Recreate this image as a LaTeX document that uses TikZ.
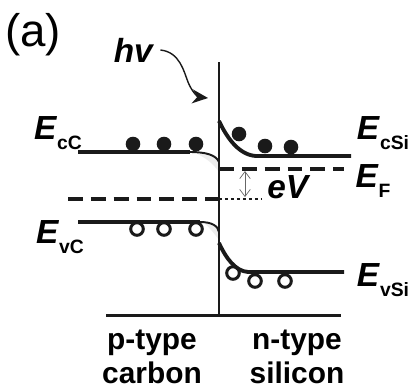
\documentclass[tikz,border=0pt]{standalone}
\usepackage{fontspec}
\setmainfont{Liberation Sans}
\usetikzlibrary{positioning, arrows.meta, calc}
\definecolor{bandblack}{HTML}{1A1A1A}
\newcommand\bandlab[2]{\textbf{\textit{#1}}\raisebox{-0.55ex}{\fontsize{11}{12}\selectfont\bfseries #2}}

\begin{document}
\begin{tikzpicture}[x=0.02cm, y=-0.02cm, font=\fontsize{17}{19}\selectfont,
    band/.style={line width=2.2pt, color=bandblack},
    bandbend/.style={line width=1.1pt, color=bandblack},
    fermi/.style={line width=1.9pt, dash pattern=on 8.5pt off 4.5pt, color=bandblack},
    electron/.style={fill=bandblack},
    hole/.style={draw=bandblack, line width=1.7pt},
    elabel/.style={font=\fontsize{19}{21}\selectfont, inner sep=0pt}]
    \useasboundingbox (0,0) rectangle (410,387);
    \coordinate (jtop) at (219,62);
    \coordinate (jbot) at (219,315);
    \coordinate (baseL) at (106,315);
    \coordinate (baseR) at (341,315);
    \fill[gray!14] (196,153) .. controls (210,154) and (217,157) .. (219,162) -- (219,172) .. controls (212,162) and (205,158) .. cycle;
    \fill[gray!14] (204,223) .. controls (213,224) and (218,227) .. (219,232) -- (219,240) .. controls (213,232) and (209,227) .. cycle;
    \draw[line width=1.1pt, color=bandblack] (jtop) -- (jbot);
    \draw[line width=1.7pt, color=bandblack] (baseL) -- (baseR);
    \draw[band] (78,152) -- (190,152);
    \draw[bandbend] (190,152) .. controls (206,152) and (216,155) .. (219,162);
    \draw[band] (219,121) .. controls (228,140) and (240,155) .. (256,156) -- (351,156);
    \draw[band] (78,222) -- (200,222);
    \draw[bandbend] (200,222) .. controls (212,222) and (218,226) .. (219,232);
    \draw[band] (219,243) .. controls (226,258) and (235,271) .. (248,272) -- (344,272);
    \coordinate (efR) at (219,169);
    \coordinate (efL) at (219,199);
    \draw[fermi] (efR) -- (344,169);
    \draw[fermi] (68,199) -- (efL);
    \draw[line width=1.5pt, dash pattern=on 1.7pt off 1.7pt, color=bandblack] (efL) -- (262,199);
    \foreach \x/\y in {133/144, 164/144, 196/144, 239/134, 265/146, 291/147}
        \fill[electron] (\x,\y) circle (7.3);
    \foreach \x/\y in {137/229, 164/229, 196/229, 233/273, 255/281, 285/281}
        \draw[hole] (\x,\y) circle (6.3);
    \coordinate (evtop) at (245,171);
    \coordinate (evbot) at (245,197);
    \draw[{Straight Barb[length=4pt, width=6pt]}-{Straight Barb[length=4pt, width=6pt]}, line width=0.4pt, color=gray!80!black] (evtop) -- (evbot);
    \node (lbla) at (33,35) {\fontsize{26}{28}\selectfont (a)};
    \node (hv) at (134,50) {\fontsize{19}{21}\selectfont\textbf{\textit{hv}}};
    \coordinate (hvtip) at (208,98);
    \draw[-{Stealth[length=9pt, width=8pt]}, line width=0.8pt, color=bandblack] (hv.east) .. controls (180,52) and (184,72) .. (188,82) .. controls (192,92) and (198,97) .. (hvtip);
    \node[elabel] (ecc) at (58,133) {\bandlab{E}{cC}};
    \node[elabel] (evc) at (60,237) {\bandlab{E}{vC}};
    \node[elabel] (ecsi) at (383,133) {\bandlab{E}{cSi}};
    \node[elabel] (ef) at (373,181) {\bandlab{E}{F}};
    \node[elabel] (evsi) at (383,280) {\bandlab{E}{vSi}};
    \node (ev) at (289,187) {\fontsize{19}{21}\selectfont\textbf{\textit{eV}}};
    \node[align=center, font=\fontsize{17}{19}\selectfont\bfseries] (ptype) at (152,357) {p-type\\carbon};
    \node[align=center, font=\fontsize{17}{19}\selectfont\bfseries] (ntype) at (297,357) {n-type\\silicon};
\end{tikzpicture}
\end{document}
